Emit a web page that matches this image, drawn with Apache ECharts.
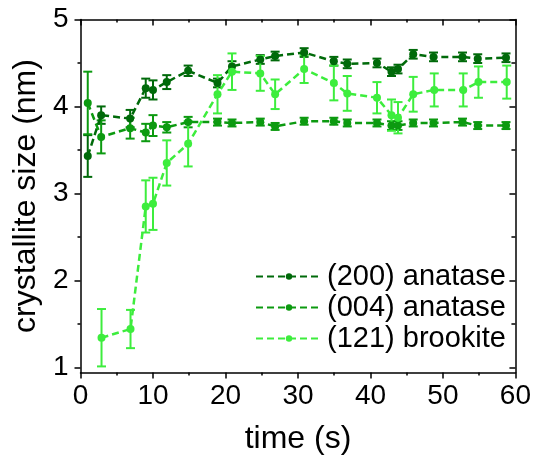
<!DOCTYPE html>
<html>
<head>
<meta charset="utf-8">
<script src="https://cdn.jsdelivr.net/npm/echarts@6/dist/echarts.min.js"></script>
<style>
  html, body { margin: 0; padding: 0; background: #fff; }
  #chart { width: 534px; height: 463px; }
</style>
</head>
<body>
<div id="chart"></div>
<script>
// values
const time200 = [1, 2.85, 6.85, 9, 10, 11.9, 14.85, 18.9, 20.9, 24.8, 26.85, 30.85, 34.95, 36.8, 40.9, 42.9, 43.8, 45.9, 48.7, 52.7, 54.8, 58.7];
const size200 = [3.43, 3.90, 3.86, 4.21, 4.19, 4.28, 4.41, 4.27, 4.46, 4.54, 4.58, 4.62, 4.52, 4.49, 4.50, 4.40, 4.43, 4.60, 4.57, 4.57, 4.55, 4.56];
const err200  = [0.24, 0.10, 0.10, 0.11, 0.11, 0.08, 0.06, 0.05, 0.06, 0.05, 0.05, 0.05, 0.05, 0.05, 0.05, 0.05, 0.05, 0.05, 0.05, 0.05, 0.05, 0.05];

const time004 = [1, 2.85, 6.85, 9, 10, 11.9, 14.85, 18.9, 20.9, 24.8, 26.85, 30.85, 34.95, 36.8, 40.9, 42.9, 43.8, 45.9, 48.7, 52.7, 54.8, 58.7];
const size004 = [4.04, 3.65, 3.75, 3.70, 3.78, 3.76, 3.82, 3.82, 3.81, 3.82, 3.77, 3.83, 3.83, 3.81, 3.81, 3.78, 3.78, 3.81, 3.81, 3.82, 3.78, 3.78];
const err004  = [0.36, 0.19, 0.12, 0.10, 0.12, 0.06, 0.06, 0.04, 0.04, 0.04, 0.04, 0.04, 0.04, 0.04, 0.04, 0.05, 0.05, 0.04, 0.04, 0.04, 0.04, 0.04];

const time121 = [2.9, 6.9, 9, 10, 11.9, 14.85, 18.9, 20.9, 24.8, 26.85, 30.85, 34.95, 36.8, 40.9, 42.9, 43.8, 45.9, 48.8, 52.8, 54.9, 58.8];
const size121 = [1.34, 1.44, 2.85, 2.88, 3.35, 3.57, 4.14, 4.40, 4.38, 4.14, 4.43, 4.27, 4.15, 4.10, 3.90, 3.87, 4.14, 4.19, 4.19, 4.28, 4.28];
const err121  = [0.33, 0.22, 0.30, 0.30, 0.26, 0.26, 0.22, 0.21, 0.20, 0.17, 0.16, 0.20, 0.20, 0.18, 0.18, 0.18, 0.20, 0.19, 0.19, 0.18, 0.19];

const yMajor = [1, 2, 3, 4, 5];
const yMinor = [1.5, 2.5, 3.5, 4.5];
const names = ['(200) anatase', '(004) anatase', '(121) brookite'];
const colors = ['#006a0a', '#0c9a10', '#3ded3d'];

const font = 'Liberation Sans, Arial, sans-serif';

function pairs(xs, ys) {
  return xs.map((x, i) => [x, ys[i]]);
}
function bars(xs, ys, es) {
  return xs.map((x, i) => [x, ys[i] - es[i], ys[i] + es[i]]);
}

function errorBar(color) {
  return function (params, api) {
    const x = api.value(0);
    const lo = api.coord([x, api.value(1)]);
    const hi = api.coord([x, api.value(2)]);
    const w = 4.5;
    const st = { stroke: color, lineWidth: 2 };
    return {
      type: 'group',
      children: [
        { type: 'line', shape: { x1: lo[0], y1: lo[1], x2: hi[0], y2: hi[1] }, style: st },
        { type: 'line', shape: { x1: lo[0] - w, y1: lo[1], x2: lo[0] + w, y2: lo[1] }, style: st },
        { type: 'line', shape: { x1: hi[0] - w, y1: hi[1], x2: hi[0] + w, y2: hi[1] }, style: st }
      ]
    };
  };
}

const chart = echarts.init(document.getElementById('chart'));

const lineAxis = { lineStyle: { color: '#000', width: 1.5 } };

const dataSets = [
  [time200, size200, err200],
  [time004, size004, err004],
  [time121, size121, err121]
];

const series = [];
dataSets.forEach((d, i) => {
  series.push({
    type: 'custom',
    renderItem: errorBar(colors[i]),
    data: bars(d[0], d[1], d[2]),
    encode: { x: 0, y: [1, 2] },
    z: 2 + i,
    silent: true
  });
});
dataSets.forEach((d, i) => {
  series.push({
    name: names[i],
    type: 'line',
    data: pairs(d[0], d[1]),
    symbol: 'circle',
    symbolSize: 8,
    color: colors[i],
    lineStyle: { color: colors[i], width: 2.5, type: [7, 4] },
    itemStyle: { color: colors[i] },
    z: 5 + i
  });
});

chart.setOption({
  animation: false,
  grid: { left: 80.5, right: 14, top: 19.5, bottom: 90.5 },
  legend: {
    data: names,
    orient: 'vertical',
    left: 250,
    top: 257,
    itemWidth: 66,
    itemHeight: 8,
    itemGap: 2,
    textStyle: { fontFamily: font, fontSize: 29, color: '#000' }
  },
  xAxis: [
    {
      type: 'value', position: 'bottom', min: 0, max: 60, interval: 10,
      axisLine: lineAxis,
      axisTick: { length: 6, lineStyle: { color: '#000', width: 1.5 } },
      minorTick: { show: true, splitNumber: 2, length: 3, lineStyle: { color: '#000', width: 1.5 } },
      splitLine: { show: false },
      axisLabel: { fontFamily: font, fontSize: 28, color: '#000', margin: 10 },
      name: 'time (s)', nameLocation: 'middle', nameGap: 51,
      nameTextStyle: { fontFamily: font, fontSize: 32, color: '#000' }
    },
    {
      type: 'value', position: 'top', min: 0, max: 60, interval: 10,
      axisLine: lineAxis,
      axisTick: { inside: true, length: 6, lineStyle: { color: '#000', width: 1.5 } },
      minorTick: { show: true, splitNumber: 2, length: 3, lineStyle: { color: '#000', width: 1.5 } },
      splitLine: { show: false },
      axisLabel: { show: false }
    }
  ],
  yAxis: [
    {
      type: 'value', position: 'left', min: 0.94, max: 5,
      axisLine: lineAxis,
      axisTick: { length: 6, customValues: yMajor, lineStyle: { color: '#000', width: 1.5 } },
      splitLine: { show: false },
      axisLabel: { customValues: yMajor, fontFamily: font, fontSize: 28, color: '#000', margin: 12 },
      name: 'crystallite size (nm)', nameLocation: 'middle', nameGap: 38,
      nameTextStyle: { fontFamily: font, fontSize: 32, color: '#000' }
    },
    {
      type: 'value', position: 'left', min: 0.94, max: 5,
      axisLine: { show: false },
      axisTick: { length: 3, customValues: yMinor, lineStyle: { color: '#000', width: 1.5 } },
      splitLine: { show: false },
      axisLabel: { show: false }
    },
    {
      type: 'value', position: 'right', min: 0.94, max: 5,
      axisLine: lineAxis,
      axisTick: { inside: true, length: 6, customValues: yMajor, lineStyle: { color: '#000', width: 1.5 } },
      splitLine: { show: false },
      axisLabel: { show: false }
    },
    {
      type: 'value', position: 'right', min: 0.94, max: 5,
      axisLine: { show: false },
      axisTick: { inside: true, length: 4, customValues: yMinor, lineStyle: { color: '#000', width: 1.5 } },
      splitLine: { show: false },
      axisLabel: { show: false }
    }
  ],
  series: series
});
</script>
</body>
</html>
